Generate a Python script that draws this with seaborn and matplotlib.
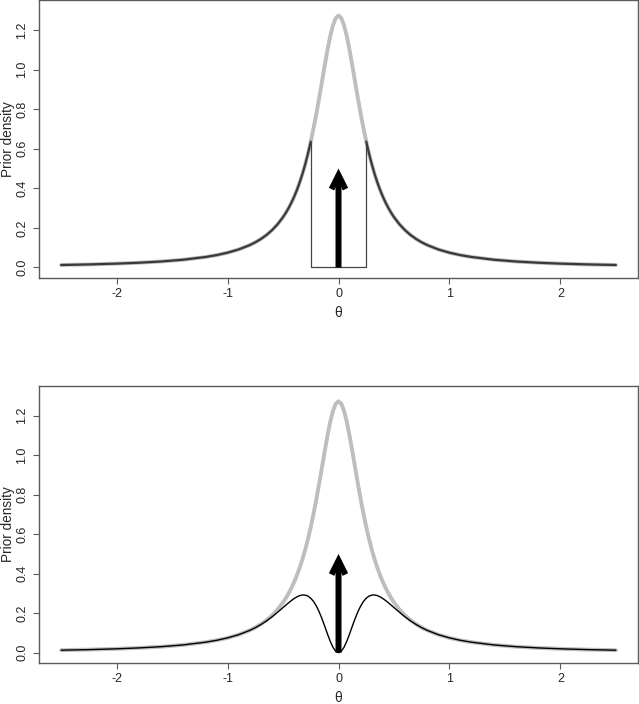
import matplotlib
matplotlib.use("Agg")
import matplotlib.pyplot as plt
import seaborn as sns
import pandas as pd

# ---- data ----
theta = [-2.5, -2.25, -2.0, -1.8, -1.6, -1.4, -1.2, -1.1, -1.0, -0.9, -0.8, -0.75, -0.7,
         -0.65, -0.6, -0.55, -0.5, -0.475, -0.45, -0.425, -0.4, -0.375, -0.35, -0.325,
         -0.3, -0.275, -0.25, -0.225, -0.2, -0.175, -0.15, -0.125, -0.1, -0.075, -0.05,
         -0.025, 0.0, 0.025, 0.05, 0.075, 0.1, 0.125, 0.15, 0.175, 0.2, 0.225, 0.25,
         0.275, 0.3, 0.325, 0.35, 0.375, 0.4, 0.425, 0.45, 0.475, 0.5, 0.55, 0.6, 0.65,
         0.7, 0.75, 0.8, 0.9, 1.0, 1.1, 1.2, 1.4, 1.6, 1.8, 2.0, 2.25, 2.5]
cauchy_density = [0.0126, 0.0155, 0.0196, 0.0241, 0.0303, 0.0393, 0.0530, 0.0625, 0.0749,
                  0.0912, 0.1133, 0.1273, 0.1440, 0.1641, 0.1883, 0.2180, 0.2547, 0.2762,
                  0.3003, 0.3273, 0.3577, 0.3918, 0.4301, 0.4733, 0.5218, 0.5761, 0.6366,
                  0.7035, 0.7764, 0.8545, 0.9362, 1.0186, 1.0976, 1.1681, 1.2243, 1.2606,
                  1.2732,
                  1.2606, 1.2243, 1.1681, 1.0976, 1.0186, 0.9362, 0.8545, 0.7764, 0.7035,
                  0.6366, 0.5761, 0.5218, 0.4733, 0.4301, 0.3918, 0.3577, 0.3273, 0.3003,
                  0.2762, 0.2547, 0.2180, 0.1883, 0.1641, 0.1440, 0.1273, 0.1133, 0.0912,
                  0.0749, 0.0625, 0.0530, 0.0393, 0.0303, 0.0241, 0.0196, 0.0155, 0.0126]
nonlocal_density = [0.0126, 0.0155, 0.0196, 0.0241, 0.0303, 0.0393, 0.0530, 0.0625, 0.0749,
                    0.0911, 0.1129, 0.1266, 0.1424, 0.1606, 0.1812, 0.2041, 0.2284, 0.2407,
                    0.2526, 0.2639, 0.2741, 0.2827, 0.2891, 0.2921, 0.2917, 0.2865, 0.2757,
                    0.2594, 0.2367, 0.2077, 0.1732, 0.1349, 0.0954, 0.0582, 0.0275, 0.0071,
                    0.0,
                    0.0071, 0.0275, 0.0582, 0.0954, 0.1349, 0.1732, 0.2077, 0.2367, 0.2594,
                    0.2757, 0.2865, 0.2917, 0.2921, 0.2891, 0.2827, 0.2741, 0.2639, 0.2526,
                    0.2407, 0.2284, 0.2041, 0.1812, 0.1606, 0.1424, 0.1266, 0.1129, 0.0911,
                    0.0749, 0.0625, 0.0530, 0.0393, 0.0303, 0.0241, 0.0196, 0.0155, 0.0126]
box_half_width = 0.25
box_height = 0.6366
point_mass_height = 0.5

x_ticks = [-2, -1, 0, 1, 2]
y_ticks = [0.0, 0.2, 0.4, 0.6, 0.8, 1.0, 1.2]
x_label = "θ"
y_label = "Prior density"

# ---- figure ----
sns.set_style("white")
plt.rcParams['font.family'] = ['Liberation Sans', 'DejaVu Sans']

df = pd.DataFrame({"theta": theta, "cauchy": cauchy_density, "nonlocal": nonlocal_density})
left = df[df.theta <= -box_half_width]
right = df[df.theta >= box_half_width]

fig = plt.figure(figsize=(6.39, 7.04), dpi=100)
ax1 = fig.add_axes([0.061, 0.6057, 0.9375, 0.3943])
ax2 = fig.add_axes([0.061, 0.0586, 0.9375, 0.3935])

frame_col = "#5a5a5a"
gray = "#bebebe"

def style(ax):
    ax.set_xlim(-2.7, 2.7)
    ax.set_ylim(-0.051, 1.352)
    ax.set_xticks(x_ticks)
    ax.set_xticklabels([str(t) for t in x_ticks])
    ax.set_yticks(y_ticks)
    ax.set_yticklabels([f"{t:.1f}" for t in y_ticks], rotation=90, va="center")
    ax.tick_params(axis="both", direction="out", length=4.5, width=0.8, color=frame_col,
                   labelsize=9, pad=3, bottom=True, left=True)
    for s in ax.spines.values():
        s.set_color(frame_col)
        s.set_linewidth(1.0)
    ax.set_xlabel(x_label, fontsize=10, labelpad=4)
    ax.set_ylabel(y_label, fontsize=9.8)
    ax.yaxis.set_label_coords(-0.040, 0.5)

def arrow(ax):
    ax.annotate("", xy=(0, point_mass_height), xytext=(0, 0),
                arrowprops=dict(arrowstyle="->,head_length=1.0,head_width=0.5",
                                lw=4.3, color="black", shrinkA=0, shrinkB=0,
                                mutation_scale=10,
                                joinstyle="miter", capstyle="butt"))

# top panel
sns.lineplot(data=df, x="theta", y="cauchy", ax=ax1, color=gray, lw=2.8)
sns.lineplot(data=left, x="theta", y="cauchy", ax=ax1, color="#3a3a3a", lw=1.6)
sns.lineplot(data=right, x="theta", y="cauchy", ax=ax1, color="#3a3a3a", lw=1.6)
ax1.plot([-box_half_width, -box_half_width, box_half_width, box_half_width],
         [box_height, 0, 0, box_height], color="#444444", lw=0.9)
arrow(ax1)
style(ax1)

# bottom panel
sns.lineplot(data=df, x="theta", y="cauchy", ax=ax2, color=gray, lw=2.8)
sns.lineplot(data=df, x="theta", y="nonlocal", ax=ax2, color="black", lw=1.0)
arrow(ax2)
style(ax2)

fig.savefig("out.png", dpi=100)
